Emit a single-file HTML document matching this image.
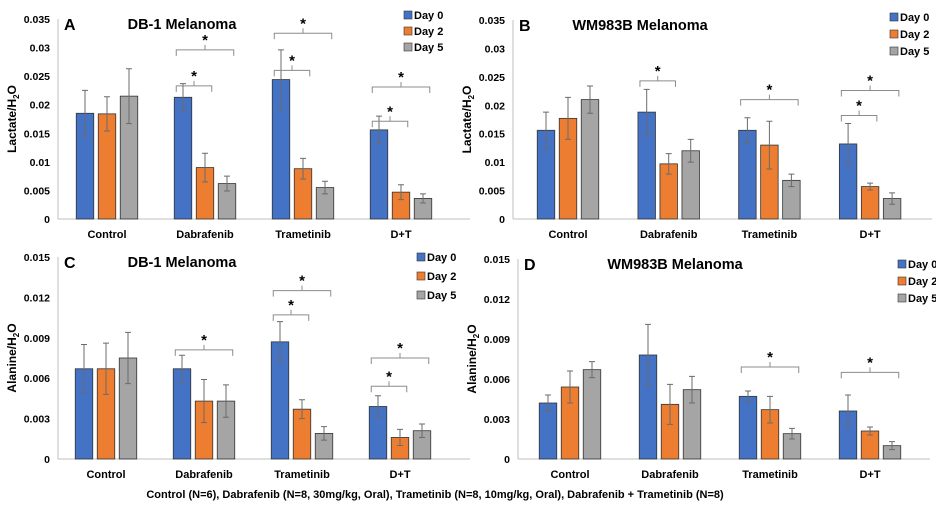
<!DOCTYPE html>
<html><head><meta charset="utf-8"><style>
body{margin:0;background:#fff;width:936px;height:506px;overflow:hidden;font-family:"Liberation Sans",Arial,sans-serif}
svg text{font-family:"Liberation Sans",Arial,sans-serif;font-weight:bold}
</style></head><body>
<svg id="fig" width="936" height="506" viewBox="0 0 936 506" xmlns="http://www.w3.org/2000/svg">
<text x="435" y="498" font-size="11" text-anchor="middle">Control (N=6), Dabrafenib (N=8,  30mg/kg, Oral), Trametinib (N=8,  10mg/kg, Oral), Dabrafenib + Trametinib (N=8)</text>
</svg>
<script>
const categories=["Control","Dabrafenib","Trametinib","D+T"];
const seriesNames=["Day 0","Day 2","Day 5"];
const colors=["#4472c4","#ed7d31","#a5a5a5"];
// panel A lactate DB-1
const aDay0=[0.0185,0.0213,0.0244,0.0156], aDay0Err=[0.004,0.0024,0.0052,0.0024];
const aDay2=[0.0184,0.009,0.0088,0.0047], aDay2Err=[0.003,0.0025,0.0018,0.0013];
const aDay5=[0.0215,0.0062,0.0055,0.0036], aDay5Err=[0.0048,0.0013,0.0011,0.0008];
const aBrackets=[[1,0,1,0.0233],[1,0,2,0.0296],[2,0,1,0.026],[2,0,2,0.0325],[3,0,1,0.0171],[3,0,2,0.0231]];
// panel B lactate WM983B
const bDay0=[0.0156,0.0188,0.0156,0.0132], bDay0Err=[0.0032,0.004,0.0022,0.0036];
const bDay2=[0.0177,0.0097,0.013,0.0057], bDay2Err=[0.0037,0.0018,0.0042,0.0006];
const bDay5=[0.021,0.012,0.0068,0.0036], bDay5Err=[0.0024,0.002,0.0011,0.001];
const bBrackets=[[1,0,1,0.0243],[2,0,2,0.021],[3,0,1,0.0182],[3,0,2,0.0226]];
// panel C alanine DB-1
const cDay0=[0.0067,0.0067,0.0087,0.0039], cDay0Err=[0.0018,0.001,0.0015,0.0008];
const cDay2=[0.0067,0.0043,0.0037,0.0016], cDay2Err=[0.0019,0.0016,0.0007,0.0006];
const cDay5=[0.0075,0.0043,0.0019,0.0021], cDay5Err=[0.0019,0.0012,0.0005,0.0005];
const cBrackets=[[1,0,2,0.0081],[2,0,1,0.0107],[2,0,2,0.0125],[3,0,1,0.0054],[3,0,2,0.0075]];
// panel D alanine WM983B
const dDay0=[0.0042,0.0078,0.0047,0.0036], dDay0Err=[0.0006,0.0023,0.0004,0.0012];
const dDay2=[0.0054,0.0041,0.0037,0.0021], dDay2Err=[0.0012,0.0015,0.001,0.0003];
const dDay5=[0.0067,0.0052,0.0019,0.001], dDay5Err=[0.0006,0.001,0.0004,0.0003];
const dBrackets=[[2,0,2,0.0069],[3,0,2,0.0065]];
const lactateTicks=["0","0.005","0.01","0.015","0.02","0.025","0.03","0.035"];
const alanineTicks=["0","0.003","0.006","0.009","0.012","0.015"];

const NS="http://www.w3.org/2000/svg";
const svg=document.getElementById('fig');
function mk(tag,attrs,parent){const e=document.createElementNS(NS,tag);for(const k in attrs)e.setAttribute(k,attrs[k]);(parent||svg).appendChild(e);return e;}

function panel(p){
  const g=mk('g',{});
  
  
  const ymax=parseFloat(p.ticks[p.ticks.length-1]);
  const y=v=>p.y0-(v/ymax)*(p.y0-p.yTop);
  const xc=i=>p.c0+i*p.step;
  const bw=17.5,pitch=22;
  const ax=mk('line',{x1:p.ax,x2:p.ax,y1:p.yTop,y2:p.y0,stroke:'#bfbfbf','stroke-width':1},g);
  
  const xa=mk('line',{x1:p.ax,x2:p.axEnd,y1:p.y0,y2:p.y0,stroke:'#bfbfbf','stroke-width':1},g);
  
  p.ticks.forEach(t=>{
    const tx=mk('text',{x:p.ax-8,y:y(parseFloat(t))+4,'font-size':10.5,'text-anchor':'end'},g);
    tx.textContent=t;
    
  });
  const yt=mk('text',{x:0,y:0,'font-size':12,'text-anchor':'middle',transform:`translate(${p.ax-42},${(p.y0+p.yTop)/2}) rotate(-90)`},g);
  yt.innerHTML=p.ylab+'/H<tspan font-size="8" dy="3">2</tspan><tspan dy="-3">O</tspan>';
  
  categories.forEach((c,i)=>{
    const t=mk('text',{x:xc(i),y:p.y0+19,'font-size':11,'text-anchor':'middle'},g);
    t.textContent=c;
    
  });
  p.series.forEach((s,si)=>{
    s.vals.forEach((v,i)=>{
      const cx=xc(i)+(si-1)*pitch;
      const r=mk('rect',{x:cx-bw/2,y:y(v),width:bw,height:p.y0-y(v),fill:colors[si],stroke:'#333','stroke-width':0.8},g);
      
      
      const e=s.err[i];
      const el=mk('path',{d:`M${cx},${y(v+e)}V${y(v-e)}M${cx-3},${y(v+e)}H${cx+3}M${cx-3},${y(v-e)}H${cx+3}`,stroke:'#6b6b6b','stroke-width':1,fill:'none'},g);
      
    });
  });
  p.brackets.forEach(b=>{
    const x1=xc(b[0])+(b[1]-1)*pitch-bw/2+2,x2=xc(b[0])+(b[2]-1)*pitch+bw/2-2,yy=y(b[3]),m=(x1+x2)/2;
    const br=mk('path',{d:`M${x1},${yy+6}V${yy}H${x2}V${yy+6}M${m},${yy}V${yy-5}`,stroke:'#8c8c8c','stroke-width':1,fill:'none'},g);
    
    const st=mk('text',{x:m,y:yy-5,'font-size':15,'text-anchor':'middle'},g);
    st.textContent='*';
    
  });
  const L=mk('text',{x:p.ax+6,y:p.yTop+11,'font-size':16},g);L.textContent=p.id.toUpperCase();
  
  const T=mk('text',{x:p.titleX,y:p.yTop+10,'font-size':14.5,'text-anchor':'middle'},g);T.textContent=p.title;
  
  seriesNames.forEach((n,si)=>{
    const ly=p.legY+si*p.legStep;
    const sq=mk('rect',{x:p.legX,y:ly-8,width:8,height:8,fill:colors[si],stroke:'#333','stroke-width':0.6},g);
    
    const lt=mk('text',{x:p.legX+10,y:ly,'font-size':11},g);lt.textContent=n;
    
  });
}
panel({id:'a',ax:58,axEnd:470,y0:219,yTop:19,c0:107,step:98,ticks:lactateTicks,ylab:'Lactate',title:'DB-1 Melanoma',titleX:182,legX:404,legY:19,legStep:16,
  series:[{vals:aDay0,err:aDay0Err},{vals:aDay2,err:aDay2Err},{vals:aDay5,err:aDay5Err}],brackets:aBrackets});
panel({id:'b',ax:513,axEnd:932,y0:219,yTop:20,c0:568,step:100.7,ticks:lactateTicks,ylab:'Lactate',title:'WM983B Melanoma',titleX:640,legX:890,legY:21,legStep:17,
  series:[{vals:bDay0,err:bDay0Err},{vals:bDay2,err:bDay2Err},{vals:bDay5,err:bDay5Err}],brackets:bBrackets});
panel({id:'c',ax:58,axEnd:470,y0:459,yTop:257,c0:106,step:98,ticks:alanineTicks,ylab:'Alanine',title:'DB-1 Melanoma',titleX:182,legX:417,legY:261,legStep:19,
  series:[{vals:cDay0,err:cDay0Err},{vals:cDay2,err:cDay2Err},{vals:cDay5,err:cDay5Err}],brackets:cBrackets});
panel({id:'d',ax:518,axEnd:930,y0:459,yTop:259,c0:570,step:100,ticks:alanineTicks,ylab:'Alanine',title:'WM983B Melanoma',titleX:675,legX:898,legY:268,legStep:17,
  series:[{vals:dDay0,err:dDay0Err},{vals:dDay2,err:dDay2Err},{vals:dDay5,err:dDay5Err}],brackets:dBrackets});
</script>
</body></html>
